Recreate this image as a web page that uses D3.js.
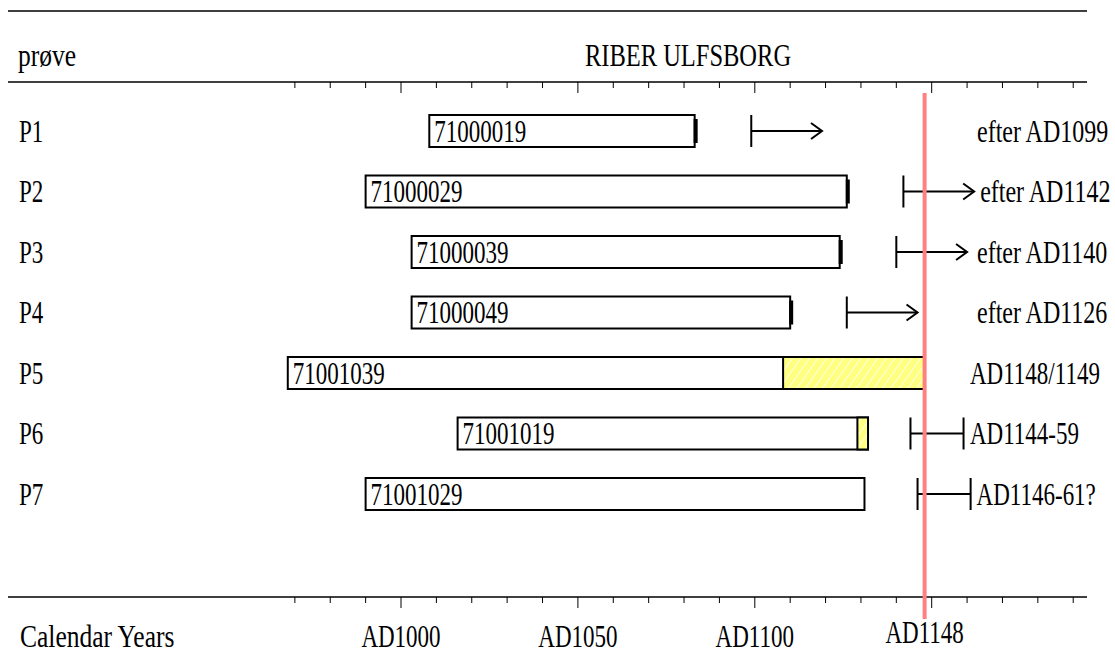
<!DOCTYPE html>
<html>
<head>
<meta charset="utf-8">
<script src="https://cdn.jsdelivr.net/npm/d3@7"></script>
<style>
  body { margin: 0; background: #fff; }
  text { font-family: "Liberation Serif", "Times New Roman", serif; fill: #000; }
</style>
</head>
<body>
<div id="chart"></div>
<script>
// samples and their dendro series
const samples = ['P1', 'P2', 'P3', 'P4', 'P5', 'P6', 'P7'];
const seriesIds = ['71000019', '71000029', '71000039', '71000049', '71001039', '71001019', '71001029'];
const startYears = [1008, 990, 1003, 1003, 968, 1016, 990];
const endYears = [1083, 1126, 1124, 1110, 1148, 1132, 1131];
const sapwoodFrom = [null, null, null, null, 1108, 1129, null];
const hasEndMark = [true, true, true, true, false, false, false];
// felling estimates
const fellFrom = [1099, 1142, 1140, 1126, null, 1144, 1146];
const fellTo = [null, null, null, null, null, 1159, 1161];
const datingLabels = ['efter AD1099', 'efter AD1142', 'efter AD1140', 'efter AD1126', 'AD1148/1149', 'AD1144-59', 'AD1146-61?'];
const fellingYear = 1148;
const axisLabelYears = [1000, 1050, 1100];
const arrowYears = 20;

const width = 1115, height = 661;
const lineLeft = 8, lineRight = 1087;
const topLineY = 11, axisTopY = 82, axisBottomY = 597;
const barH = 32;

const x = d3.scaleLinear().domain([1000, 1150]).range([401, 931.7]);
const y = d3.scalePoint().domain(samples).range([131, 494]);

const svg = d3.select('#chart').append('svg')
  .attr('width', width)
  .attr('height', height);

const defs = svg.append('defs');
const pat = defs.append('pattern')
  .attr('id', 'hatch')
  .attr('patternUnits', 'userSpaceOnUse')
  .attr('width', 7).attr('height', 7)
  .attr('patternTransform', 'rotate(35)');
pat.append('rect').attr('width', 7).attr('height', 7).attr('fill', '#ffff80');
pat.append('line').attr('x1', 0).attr('y1', 0).attr('x2', 0).attr('y2', 7)
  .attr('stroke', '#ffffff').attr('stroke-width', 1.6);

// glyphs in the original are stretched vertically, so squeeze/stretch by size
function label(g, txt, tx, ty, anchor, size) {
  size = size || 23;
  const sy = 20.5 / (0.662 * size);
  g.append('text')
    .attr('transform', `translate(${tx},${ty}) scale(1,${sy.toFixed(3)})`)
    .attr('dy', '0.35em')
    .attr('text-anchor', anchor || 'start')
    .style('font-size', size + 'px')
    .text(txt);
}

// horizontal rules
[topLineY, axisTopY, axisBottomY].forEach(function(ly) {
  svg.append('line')
    .attr('x1', lineLeft).attr('x2', lineRight)
    .attr('y1', ly).attr('y2', ly)
    .attr('stroke', '#000').attr('stroke-width', 1.5);
});

// tick marks top and bottom
const tickYears = d3.range(970, 1191, 10);
[axisTopY, axisBottomY].forEach(function(ly) {
  svg.append('g').selectAll('line')
    .data(tickYears)
    .enter().append('line')
    .attr('x1', d => x(d)).attr('x2', d => x(d))
    .attr('y1', ly)
    .attr('y2', d => ly + (d % 50 === 0 ? 11 : 6))
    .attr('stroke', '#000').attr('stroke-width', 1);
});

// header and footer
label(svg, 'prøve', 18, 55, 'start', 25.5);
label(svg, 'RIBER ULFSBORG', 688, 55, 'middle', 24.5);
label(svg, 'Calendar Years', 20, 636, 'start', 25.5);
axisLabelYears.forEach(function(yr) {
  label(svg, 'AD' + yr, x(yr), 636, 'middle');
});

const rows = svg.append('g');

samples.forEach(function(s, i) {
  const cy = y(s);
  const top = cy - barH / 2;
  const g = rows.append('g');

  label(g, s, 19, cy);

  // heartwood part
  g.append('rect')
    .attr('x', x(startYears[i]))
    .attr('y', top)
    .attr('width', x(endYears[i]) - x(startYears[i]))
    .attr('height', barH)
    .attr('fill', '#fff')
    .attr('stroke', '#000').attr('stroke-width', 2);

  // sapwood part
  if (sapwoodFrom[i] !== null) {
    g.append('rect')
      .attr('x', x(sapwoodFrom[i]))
      .attr('y', top)
      .attr('width', x(endYears[i]) - x(sapwoodFrom[i]))
      .attr('height', barH)
      .attr('fill', 'url(#hatch)')
      .attr('stroke', '#000').attr('stroke-width', 2);
  }

  if (hasEndMark[i]) {
    g.append('rect')
      .attr('x', x(endYears[i]) - 1)
      .attr('y', top + 4)
      .attr('width', 4)
      .attr('height', barH - 8)
      .attr('fill', '#000');
  }

  label(g, seriesIds[i], x(startYears[i]) + 5, cy);

  let endPx = x(endYears[i]);
  if (fellFrom[i] !== null) {
    const x0 = x(fellFrom[i]);
    g.append('line')
      .attr('x1', x0).attr('x2', x0)
      .attr('y1', top).attr('y2', top + barH)
      .attr('stroke', '#000').attr('stroke-width', 2);
    const x1 = x(fellTo[i] !== null ? fellTo[i] : fellFrom[i] + arrowYears);
    g.append('line')
      .attr('x1', x0).attr('x2', x1).attr('y1', cy).attr('y2', cy)
      .attr('stroke', '#000').attr('stroke-width', 2);
    if (fellTo[i] !== null) {
      g.append('line')
        .attr('x1', x1).attr('x2', x1)
        .attr('y1', top).attr('y2', top + barH)
        .attr('stroke', '#000').attr('stroke-width', 2);
    } else {
      g.append('path')
        .attr('d', `M${x1 - 11},${cy - 8} L${x1},${cy} L${x1 - 11},${cy + 8}`)
        .attr('fill', 'none')
        .attr('stroke', '#000').attr('stroke-width', 2);
    }
    endPx = x1;
  }

  const isEfter = datingLabels[i].indexOf('efter') === 0;
  label(g, datingLabels[i], Math.max(endPx + 6, isEfter ? 977 : 970), cy, 'start', isEfter ? 24 : 23);
});

// felling year marker
svg.append('line')
  .attr('x1', x(fellingYear)).attr('x2', x(fellingYear))
  .attr('y1', 93).attr('y2', 619)
  .attr('stroke', '#ff8080').attr('stroke-width', 4);
label(svg, 'AD' + fellingYear, x(fellingYear), 632, 'middle');
</script>
</body>
</html>
